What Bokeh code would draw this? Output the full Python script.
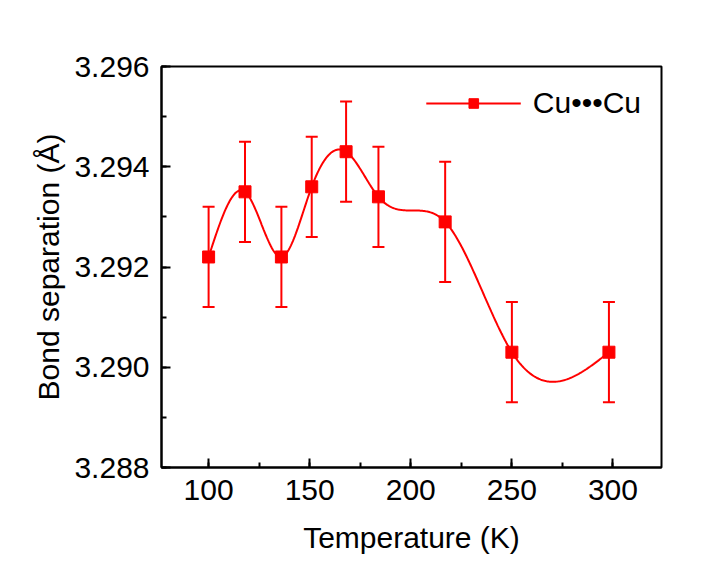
import numpy as np
from bokeh.plotting import figure
from bokeh.models import (ColumnDataSource, Whisker, TeeHead, Legend, LegendItem,
                          FixedTicker, PrintfTickFormatter)
from bokeh.embed import file_html
from bokeh.resources import INLINE

temps = [100, 118, 136, 151, 168, 184, 217, 250, 298]
sep = [3.2922, 3.2935, 3.2922, 3.2936, 3.2943, 3.2934, 3.2929, 3.2903, 3.2903]
err = [0.0010, 0.0010, 0.0010, 0.0010, 0.0010, 0.0010, 0.0012, 0.0010, 0.0010]


def natural_spline(x, y, n=400):
    # smooth curve through the data points (natural cubic spline)
    x = np.asarray(x, float); y = np.asarray(y, float)
    k = len(x); h = np.diff(x)
    A = np.zeros((k, k)); b = np.zeros(k)
    A[0, 0] = A[-1, -1] = 1
    for i in range(1, k - 1):
        A[i, i - 1] = h[i - 1]; A[i, i] = 2 * (h[i - 1] + h[i]); A[i, i + 1] = h[i]
        b[i] = 6 * ((y[i + 1] - y[i]) / h[i] - (y[i] - y[i - 1]) / h[i - 1])
    M = np.linalg.solve(A, b)
    xs = np.linspace(x[0], x[-1], n)
    idx = np.clip(np.searchsorted(x, xs) - 1, 0, k - 2)
    x0, x1 = x[idx], x[idx + 1]; hh = x1 - x0
    ys = (M[idx] * (x1 - xs) ** 3 / (6 * hh) + M[idx + 1] * (xs - x0) ** 3 / (6 * hh)
          + (y[idx] / hh - M[idx] * hh / 6) * (x1 - xs)
          + (y[idx + 1] / hh - M[idx + 1] * hh / 6) * (xs - x0))
    return xs, ys


src = ColumnDataSource(data=dict(t=temps, s=sep,
                                 lo=[a - e for a, e in zip(sep, err)],
                                 hi=[a + e for a, e in zip(sep, err)]))

p = figure(width=708, height=547, x_range=(76.7, 324), y_range=(3.288, 3.296),
           output_backend="svg", toolbar_location=None, tools="",
           frame_width=500, frame_height=401,
           min_border_left=161, min_border_top=66, min_border_right=47, min_border_bottom=80)
p.background_fill_color = None
p.border_fill_color = None
p.outline_line_color = "black"
p.outline_line_width = 2
p.grid.visible = False

xs, ys = natural_spline(temps, sep)
ln = p.line(xs, ys, line_color="red", line_width=2)
p.add_layout(Whisker(source=src, base="t", lower="lo", upper="hi", line_color="red",
                     line_width=2,
                     upper_head=TeeHead(size=12, line_color="red", line_width=2),
                     lower_head=TeeHead(size=12, line_color="red", line_width=2)))
sq = p.scatter("t", "s", source=src, marker="square", size=12, color="red")

p.xaxis.ticker = FixedTicker(ticks=[100, 150, 200, 250, 300],
                             minor_ticks=list(range(75, 326, 25)))
p.yaxis.ticker = FixedTicker(ticks=[3.288, 3.290, 3.292, 3.294, 3.296],
                             minor_ticks=[3.288 + 0.001 * i for i in range(9)])
p.yaxis.formatter = PrintfTickFormatter(format="%.3f")
for ax in (p.xaxis, p.yaxis):
    ax.major_tick_in = 9
    ax.major_tick_out = 0
    ax.minor_tick_in = 5
    ax.minor_tick_out = 0
    ax.axis_line_width = 2
    ax.major_tick_line_width = 2
    ax.minor_tick_line_width = 2
    ax.major_label_text_font = "Liberation Sans"
    ax.major_label_text_font_size = "30px"
    ax.major_label_text_color = "black"
    ax.axis_label_text_font = "Liberation Sans"
    ax.axis_label_text_font_size = "30px"
    ax.axis_label_text_font_style = "normal"
    ax.axis_label_text_color = "black"
p.xaxis.axis_label = "Temperature (K)"
p.yaxis.axis_label = "Bond separation (Å)"
p.xaxis.major_label_standoff = 12
p.yaxis.major_label_standoff = 12
p.xaxis.axis_label_standoff = 18
p.yaxis.axis_label_standoff = 6

leg = Legend(items=[LegendItem(label="Cu\u2022\u2022\u2022Cu", renderers=[ln, sq])],
             location="top_right", background_fill_alpha=0, border_line_color=None,
             label_text_font="Liberation Sans", label_text_font_size="30px",
             label_text_color="black",
             glyph_width=95, glyph_height=24, margin=20, padding=4,
             label_standoff=12)
p.add_layout(leg)

open("out.html", "w").write(file_html(p, INLINE))
